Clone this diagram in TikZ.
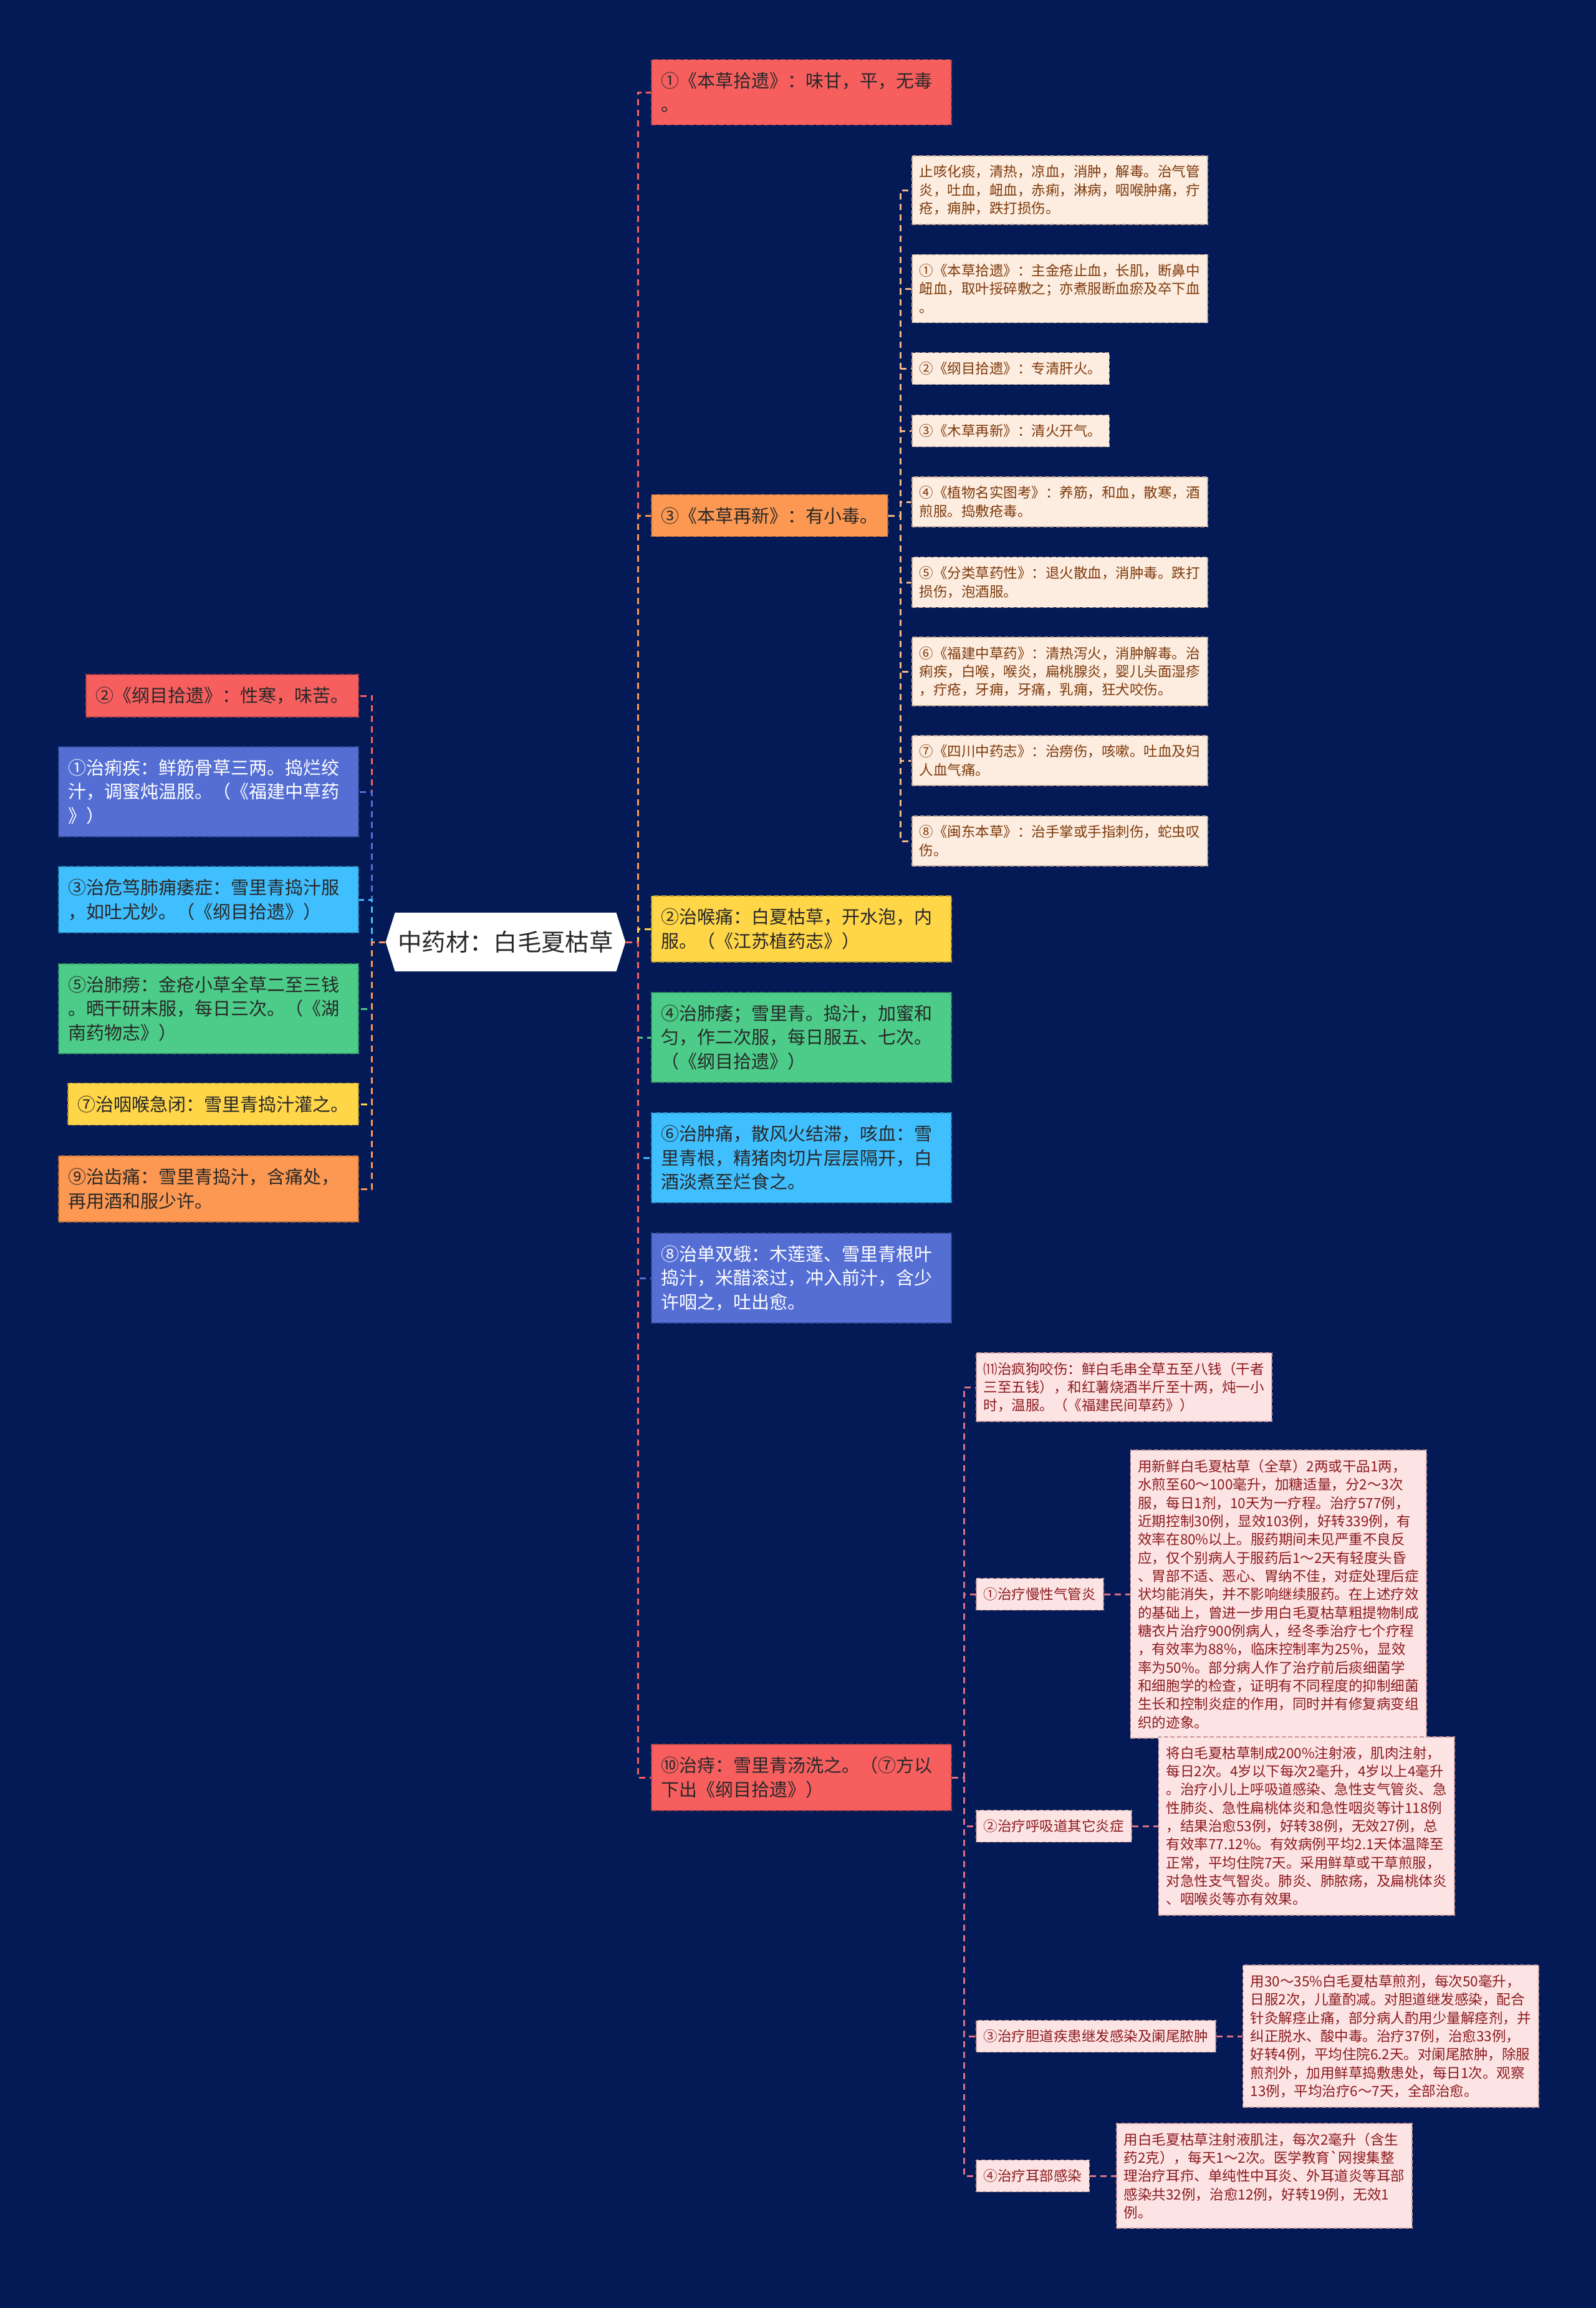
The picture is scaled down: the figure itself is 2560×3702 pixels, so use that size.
\documentclass[tikz,border=0pt]{standalone}
\usepackage{fontspec}
\setmainfont{Noto Sans CJK SC}
\usepackage{xcolor}
\usepackage{tikz}
\usetikzlibrary{positioning, shapes.symbols}
\definecolor{bgnavy}{RGB}{4,26,86}
\definecolor{mred}{RGB}{247,95,95}
\definecolor{morange}{RGB}{252,152,82}
\definecolor{myellow}{RGB}{255,214,72}
\definecolor{mgreen}{RGB}{76,204,136}
\definecolor{mcyan}{RGB}{64,191,255}
\definecolor{mblue}{RGB}{84,110,212}
\definecolor{mpeach}{RGB}{253,237,224}
\definecolor{mbrown}{RGB}{125,58,12}
\definecolor{mpink}{RGB}{253,228,228}
\definecolor{mwine}{RGB}{140,26,30}
\definecolor{mlinkpeach}{RGB}{242,182,130}
\definecolor{mlinkpink}{RGB}{224,112,130}
\definecolor{mink}{RGB}{40,40,40}
\newcommand\roottxt{\fontsize{10.9pt}{13pt}\selectfont}
\newcommand\cardtxt{\fontsize{8.25pt}{10.95pt}\selectfont}
\newcommand\leaftxt{\fontsize{6.4pt}{8.34pt}\selectfont}

\begin{document}
\begin{tikzpicture}[
      x=0.01cm, y=-0.01cm,
      hub/.style={shape=signal, signal to=east and west, signal pointer angle=145, fill=white, text=mink, font=\roottxt, inner xsep=0.05cm, minimum height=0.94cm},
      card/.style={draw=#1!70!black, fill=#1, dash pattern=on 0.08cm off 0.04cm, line width=0.5pt, text=mink, font=\cardtxt, align=left, inner xsep=0.155cm, inner ysep=0.2cm},
      wide/.style={text width=4.5cm},
      leaf/.style={draw=mbrown!45, fill=mpeach, dash pattern=on 0.07cm off 0.035cm, line width=0.45pt, text=mbrown, font=\leaftxt, align=left, inner xsep=0.12cm, inner ysep=0.15cm},
      note/.style={leaf, draw=mwine!45, fill=mpink, text=mwine},
      link/.style={dash pattern=on 0.1cm off 0.07cm, line width=0.85pt},
    ]
    \fill[bgnavy] (0,0) rectangle (2560,3702);

    \node[hub] (herb) at (811,1511) {中药材：白毛夏枯草};

    \node[card=mred, anchor=east] (xinghan) at (576,1116) {②《纲目拾遗》：性寒，味苦。};
    \node[card=mblue, wide, text=white, anchor=east] (liji) at (576,1270) {①治痢疾：鲜筋骨草三两。捣烂绞\\汁，调蜜炖温服。（《福建中草药\\》）};
    \node[card=mcyan, wide, anchor=east] (feiyong) at (576,1443) {③治危笃肺痈痿症：雪里青捣汁服\\，如吐尤妙。（《纲目拾遗》）};
    \node[card=mgreen, wide, anchor=east] (feilao) at (576,1618) {⑤治肺痨：金疮小草全草二至三钱\\。晒干研末服，每日三次。（《湖\\南药物志》）};
    \node[card=myellow, anchor=east] (yanhou) at (576,1771) {⑦治咽喉急闭：雪里青捣汁灌之。};
    \node[card=morange, wide, anchor=east] (chitong) at (576,1907) {⑨治齿痛：雪里青捣汁，含痛处，\\再用酒和服少许。};

    \node[card=mred, wide, anchor=west] (weigan) at (1044,148) {①《本草拾遗》：味甘，平，无毒\\。};
    \node[card=morange, anchor=west] (xiaodu) at (1044,827) {③《本草再新》：有小毒。};
    \node[card=myellow, wide, anchor=west] (houtong) at (1044,1490) {②治喉痛：白夏枯草，开水泡，内\\服。（《江苏植药志》）};
    \node[card=mgreen, wide, anchor=west] (feiwei) at (1044,1664) {④治肺痿；雪里青。捣汁，加蜜和\\匀，作二次服，每日服五、七次。\\（《纲目拾遗》）};
    \node[card=mcyan, wide, anchor=west] (zhongtong) at (1044,1857) {⑥治肿痛，散风火结滞，咳血：雪\\里青根，精猪肉切片层层隔开，白\\酒淡煮至烂食之。};
    \node[card=mblue, wide, text=white, anchor=west] (dane) at (1044,2050) {⑧治单双蛾：木莲蓬、雪里青根叶\\捣汁，米醋滚过，冲入前汁，含少\\许咽之，吐出愈。};
    \node[card=mred, wide, anchor=west] (zhi) at (1044,2851) {⑩治痔：雪里青汤洗之。（⑦方以\\下出《纲目拾遗》）};

    \node[leaf, wide, anchor=west] (zhike) at (1462,305) {止咳化痰，清热，凉血，消肿，解毒。治气管\\炎，吐血，衄血，赤痢，淋病，咽喉肿痛，疔\\疮，痈肿，跌打损伤。};
    \node[leaf, wide, anchor=west] (shiyi) at (1462,463) {①《本草拾遗》：主金疮止血，长肌，断鼻中\\衄血，取叶挼碎敷之；亦煮服断血瘀及卒下血\\。};
    \node[leaf, anchor=west] (ganhuo) at (1462,591) {②《纲目拾遗》：专清肝火。};
    \node[leaf, anchor=west] (kaiqi) at (1462,691) {③《木草再新》：清火开气。};
    \node[leaf, wide, anchor=west] (yangjin) at (1462,805) {④《植物名实图考》：养筋，和血，散寒，酒\\煎服。捣敷疮毒。};
    \node[leaf, wide, anchor=west] (tuihuo) at (1462,934) {⑤《分类草药性》：退火散血，消肿毒。跌打\\损伤，泡酒服。};
    \node[leaf, wide, anchor=west] (xiehuo) at (1462,1077) {⑥《福建中草药》：清热泻火，消肿解毒。治\\痢疾，白喉，喉炎，扁桃腺炎，婴儿头面湿疹\\，疔疮，牙痈，牙痛，乳痈，狂犬咬伤。};
    \node[leaf, wide, anchor=west] (laoshang) at (1462,1220) {⑦《四川中药志》：治痨伤，咳嗽。吐血及妇\\人血气痛。};
    \node[leaf, wide, anchor=west] (cishang) at (1462,1349) {⑧《闽东本草》：治手掌或手指刺伤，蛇虫叹\\伤。};

    \node[note, wide, anchor=west] (fenggou) at (1565,2225) {⑾治疯狗咬伤：鲜白毛串全草五至八钱（干者\\三至五钱），和红薯烧酒半斤至十两，炖一小\\时，温服。（《福建民间草药》）};
    \node[note, anchor=west] (qiguan) at (1565,2557) {①治疗慢性气管炎};
    \node[note, anchor=west] (huxi) at (1565,2929) {②治疗呼吸道其它炎症};
    \node[note, anchor=west] (dandao) at (1565,3266) {③治疗胆道疾患继发感染及阑尾脓肿};
    \node[note, anchor=west] (erbu) at (1565,3490) {④治疗耳部感染};

    \node[note, wide, right=0.42cm of qiguan] (qiguantxt) {用新鲜白毛夏枯草（全草）2两或干品1两，\\水煎至60～100毫升，加糖适量，分2～3次\\服，每日1剂，10天为一疗程。治疗577例，\\近期控制30例，显效103例，好转339例，有\\效率在80\%以上。服药期间未见严重不良反\\应，仅个别病人于服药后1～2天有轻度头昏\\、胃部不适、恶心、胃纳不佳，对症处理后症\\状均能消失，并不影响继续服药。在上述疗效\\的基础上，曾进一步用白毛夏枯草粗提物制成\\糖衣片治疗900例病人，经冬季治疗七个疗程\\，有效率为88\%，临床控制率为25\%，显效\\率为50\%。部分病人作了治疗前后痰细菌学\\和细胞学的检查，证明有不同程度的抑制细菌\\生长和控制炎症的作用，同时并有修复病变组\\织的迹象。};
    \node[note, wide, right=0.42cm of huxi] (huxitxt) {将白毛夏枯草制成200\%注射液，肌肉注射，\\每日2次。4岁以下每次2毫升，4岁以上4毫升\\。治疗小儿上呼吸道感染、急性支气管炎、急\\性肺炎、急性扁桃体炎和急性咽炎等计118例\\，结果治愈53例，好转38例，无效27例，总\\有效率77.12\%。有效病例平均2.1天体温降至\\正常，平均住院7天。采用鲜草或干草煎服，\\对急性支气智炎。肺炎、肺脓疡，及扁桃体炎\\、咽喉炎等亦有效果。};
    \node[note, wide, right=0.42cm of dandao] (dandaotxt) {用30～35\%白毛夏枯草煎剂，每次50毫升，\\日服2次，儿童酌减。对胆道继发感染，配合\\针灸解痉止痛，部分病人酌用少量解痉剂，并\\纠正脱水、酸中毒。治疗37例，治愈33例，\\好转4例，平均住院6.2天。对阑尾脓肿，除服\\煎剂外，加用鲜草捣敷患处，每日1次。观察\\13例，平均治疗6～7天，全部治愈。};
    \node[note, wide, right=0.42cm of erbu] (erbutxt) {用白毛夏枯草注射液肌注，每次2毫升（含生\\药2克），每天1～2次。医学教育\textasciigrave{}网搜集整\\理治疗耳疖、单纯性中耳炎、外耳道炎等耳部\\感染共32例，治愈12例，好转19例，无效1\\例。};

    \draw[link, mred] (herb.west) -- ++(-21,0) |- (xinghan.east);
    \draw[link, mblue] (herb.west) -- ++(-21,0) |- (liji.east);
    \draw[link, mcyan] (herb.west) -- ++(-21,0) |- (feiyong.east);
    \draw[link, mgreen] (herb.west) -- ++(-21,0) |- (feilao.east);
    \draw[link, myellow] (herb.west) -- ++(-21,0) |- (yanhou.east);
    \draw[link, morange] (herb.west) -- ++(-21,0) |- (chitong.east);

    \draw[link, mred] (herb.east) -- ++(19,0) |- (weigan.west);
    \draw[link, morange] (herb.east) -- ++(19,0) |- (xiaodu.west);
    \draw[link, myellow] (herb.east) -- ++(19,0) |- (houtong.west);
    \draw[link, mgreen] (herb.east) -- ++(19,0) |- (feiwei.west);
    \draw[link, mcyan] (herb.east) -- ++(19,0) |- (zhongtong.west);
    \draw[link, mblue] (herb.east) -- ++(19,0) |- (dane.west);
    \draw[link, mred] (herb.east) -- ++(19,0) |- (zhi.west);

    \foreach \leafname in {zhike, shiyi, ganhuo, kaiqi, yangjin, tuihuo, xiehuo, laoshang, cishang}
      \draw[link, mlinkpeach] (xiaodu.east) -- ++(20,0) |- (\leafname.west);

    \foreach \notename in {fenggou, qiguan, huxi, dandao, erbu}
      \draw[link, mlinkpink] (zhi.east) -- ++(19,0) |- (\notename.west);

    \draw[link, mlinkpink] (qiguan) -- (qiguantxt);
    \draw[link, mlinkpink] (huxi) -- (huxitxt);
    \draw[link, mlinkpink] (dandao) -- (dandaotxt);
    \draw[link, mlinkpink] (erbu) -- (erbutxt);
  \end{tikzpicture}
\end{document}
